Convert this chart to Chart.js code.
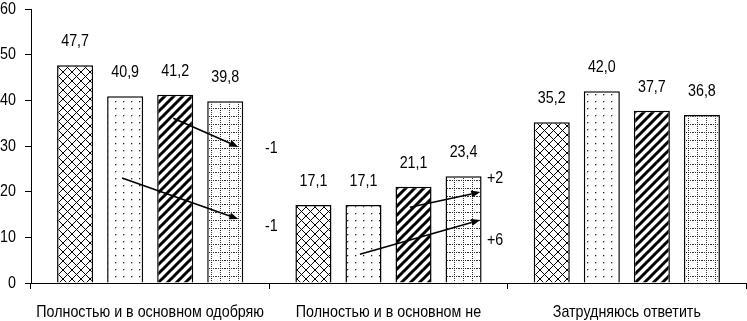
<!DOCTYPE html>
<html><head><meta charset="utf-8">
<script src="https://cdn.jsdelivr.net/npm/chart.js@4/dist/chart.umd.min.js"></script>
<style>html,body{margin:0;padding:0;background:#fff;}#wrap{width:747px;height:321px;}</style>
</head><body><div id="wrap"><canvas id="c" width="747" height="321"></canvas></div>
<script>
const categories = ['Полностью и в основном одобряю', 'Полностью и в основном не', 'Затрудняюсь ответить'];
const series1 = [47.7, 17.1, 35.2];
const series2 = [40.9, 17.1, 42.0];
const series3 = [41.2, 21.1, 37.7];
const series4 = [39.8, 23.4, 36.8];
const yTicks = [0, 10, 20, 30, 40, 50, 60];
// change annotations: category index, offset within category (fraction of category), value
const arrowLabels = ['-1', '-1', '+2', '+6'];
const arrowCategory = [0, 0, 1, 1];
const arrowFrom = [[0.097, 36.1], [-0.118, 23.0], [0.09, 16.6], [-0.12, 6.3]];
const arrowTo = [[0.37, 29.8], [0.37, 14.0], [0.385, 19.9], [0.385, 13.8]];
const arrowLabelAt = [[0.508, 29.6], [0.508, 12.5], [0.447, 23.0], [0.447, 9.4]];

const FONT = '"Liberation Sans", Arial, sans-serif';
const FS = 17;
const SX = 0.84; // narrow face emulation

function pat(kind) {
  const c = document.createElement('canvas');
  const x = c.getContext('2d');
  if (kind === 'cross') {
    c.width = 9; c.height = 9;
    x.fillStyle = '#fff'; x.fillRect(0, 0, 9, 9);
    x.strokeStyle = '#000'; x.lineWidth = 1;
    x.beginPath(); x.moveTo(-1, -1); x.lineTo(10, 10); x.moveTo(10, -1); x.lineTo(-1, 10); x.stroke();
  } else if (kind === 'dots') {
    c.width = 8; c.height = 7;
    x.fillStyle = '#fff'; x.fillRect(0, 0, 8, 7);
    x.fillStyle = '#222'; x.fillRect(3, 3, 1.3, 1.3);
  } else if (kind === 'stripe') {
    c.width = 9; c.height = 9;
    x.fillStyle = '#fff'; x.fillRect(0, 0, 9, 9);
    x.strokeStyle = '#000'; x.lineWidth = 3;
    x.beginPath();
    x.moveTo(-2, 11); x.lineTo(11, -2);
    x.moveTo(-11, 11); x.lineTo(2, -2);
    x.moveTo(7, 11); x.lineTo(20, -2);
    x.stroke();
  } else {
    c.width = 9; c.height = 8;
    x.fillStyle = '#fff'; x.fillRect(0, 0, 9, 8);
    x.fillStyle = '#333';
    for (let i = 0; i < 8; i += 2) x.fillRect(4, i, 1, 1);
    for (let i = 0; i < 9; i += 2) x.fillRect(i, 4, 1, 1);
  }
  return x.createPattern(c, 'repeat');
}

const fmt = v => v.toFixed(1).replace('.', ',');

function txt(ctx, s, x, y, align, baseline) {
  ctx.save();
  ctx.translate(x, y);
  ctx.scale(SX, 1);
  ctx.font = FS + 'px ' + FONT;
  ctx.fillStyle = '#000';
  ctx.textAlign = align;
  ctx.textBaseline = baseline;
  ctx.fillText(s, 0, 0);
  ctx.restore();
}

const texts = {
  id: 'texts',
  afterDraw(chart) {
    const ctx = chart.ctx;
    const xs = chart.scales.x, ys = chart.scales.y;
    // axis tick labels
    ys.ticks.forEach(t => txt(ctx, String(t.value), xs.left - 15, ys.getPixelForValue(t.value), 'right', 'middle'));
    xs.ticks.forEach((t, i) => txt(ctx, categories[t.value], xs.getPixelForValue(t.value), ys.bottom + 34, 'center', 'alphabetic'));
    // value labels
    chart.data.datasets.forEach((ds, di) => {
      chart.getDatasetMeta(di).data.forEach((el, i) => {
        txt(ctx, fmt(ds.data[i]), el.x, el.y - 19, 'center', 'alphabetic');
      });
    });
    // arrows
    const cw = xs.width / categories.length;
    const px = (cat, f) => xs.getPixelForValue(cat) + f * cw;
    ctx.save();
    ctx.strokeStyle = '#000'; ctx.fillStyle = '#000'; ctx.lineWidth = 1.6;
    for (let k = 0; k < arrowLabels.length; k++) {
      const c = arrowCategory[k];
      const x1 = px(c, arrowFrom[k][0]), y1 = ys.getPixelForValue(arrowFrom[k][1]);
      const x2 = px(c, arrowTo[k][0]), y2 = ys.getPixelForValue(arrowTo[k][1]);
      const a = Math.atan2(y2 - y1, x2 - x1);
      const L = 9, W = 3.5;
      const bx = x2 - L * Math.cos(a), by = y2 - L * Math.sin(a);
      ctx.beginPath(); ctx.moveTo(x1, y1); ctx.lineTo(bx, by); ctx.stroke();
      ctx.beginPath();
      ctx.moveTo(x2, y2);
      ctx.lineTo(bx + W * Math.sin(a), by - W * Math.cos(a));
      ctx.lineTo(bx - W * Math.sin(a), by + W * Math.cos(a));
      ctx.closePath(); ctx.fill();
    }
    ctx.restore();
    for (let k = 0; k < arrowLabels.length; k++) {
      txt(ctx, arrowLabels[k], px(arrowCategory[k], arrowLabelAt[k][0]), ys.getPixelForValue(arrowLabelAt[k][1]), 'center', 'middle');
    }
  }
};

const mk = (data, p) => ({ data, backgroundColor: p, borderColor: '#000', borderWidth: 1.5, categoryPercentage: 0.84, barPercentage: 0.72 });

new Chart(document.getElementById('c'), {
  type: 'bar',
  data: {
    labels: categories,
    datasets: [mk(series1, pat('cross')), mk(series2, pat('dots')), mk(series3, pat('stripe')), mk(series4, pat('grid'))]
  },
  options: {
    responsive: false, animation: false, devicePixelRatio: 1,
    layout: { padding: { top: 9, right: 1, left: 0, bottom: 0 } },
    plugins: { legend: { display: false }, tooltip: { enabled: false } },
    scales: {
      x: {
        grid: { display: true, drawOnChartArea: false, drawTicks: true, tickLength: 6, color: '#000', offset: true },
        border: { display: true, color: '#000', width: 1 },
        ticks: { display: false, autoSkip: false },
        afterFit(s) { s.height = 38; }
      },
      y: {
        min: 0, max: 60,
        afterBuildTicks(s) { s.ticks = yTicks.map(v => ({ value: v })); },
        grid: { display: true, drawOnChartArea: false, drawTicks: true, tickLength: 6, color: '#000' },
        border: { display: true, color: '#000', width: 1 },
        ticks: { display: false },
        afterFit(s) { s.width = 31; }
      }
    }
  },
  plugins: [texts]
});
</script></body></html>
